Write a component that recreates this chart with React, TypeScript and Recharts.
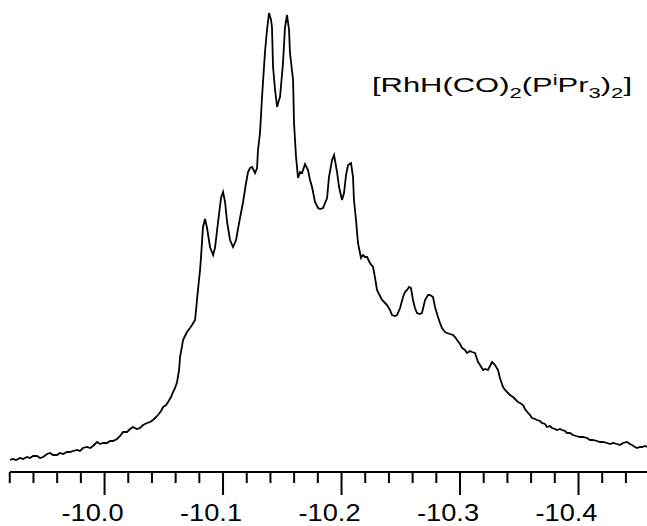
import { LineChart, Line, XAxis, YAxis } from "recharts";

// chemical shift (ppm)
const shift = [
  -9.9202, -9.9228, -9.9253, -9.9287, -9.9312, -9.9346, -9.9371, -9.9397, -9.943, -9.9456,
  -9.9481, -9.9515, -9.954, -9.9565, -9.9599, -9.9624, -9.965, -9.9683, -9.9709, -9.9734,
  -9.9768, -9.9793, -9.9818, -9.9852, -9.9878, -9.9903, -9.9937, -9.9962, -9.9987, -10.0021,
  -10.0046, -10.0072, -10.0105, -10.0131, -10.0156, -10.019, -10.0215, -10.024, -10.0274, -10.0299,
  -10.0325, -10.0359, -10.0384, -10.0409, -10.0435, -10.0451, -10.0477, -10.0494, -10.0519, -10.0536,
  -10.0561, -10.0578, -10.0595, -10.0612, -10.0629, -10.0637, -10.0654, -10.0662, -10.0679, -10.0696,
  -10.0721, -10.0738, -10.0764, -10.078, -10.0797, -10.0806, -10.0814, -10.0831, -10.0848, -10.0865,
  -10.089, -10.0916, -10.0932, -10.0958, -10.0983, -10.1, -10.1017, -10.1034, -10.1059, -10.1084,
  -10.111, -10.1135, -10.1169, -10.1194, -10.1211, -10.1228, -10.1245, -10.127, -10.1287, -10.1295,
  -10.1312, -10.1329, -10.1354, -10.1371, -10.1388, -10.1405, -10.1413, -10.1422, -10.1439, -10.1456,
  -10.1472, -10.1481, -10.1506, -10.1523, -10.154, -10.1557, -10.1565, -10.1591, -10.1599, -10.1616,
  -10.1633, -10.165, -10.1667, -10.1692, -10.1717, -10.1734, -10.1751, -10.1776, -10.1802, -10.1818,
  -10.1844, -10.1861, -10.1878, -10.1894, -10.192, -10.1937, -10.1962, -10.1979, -10.2004, -10.2021,
  -10.2038, -10.2055, -10.208, -10.2097, -10.2105, -10.2122, -10.2139, -10.2164, -10.2181, -10.2198,
  -10.2215, -10.224, -10.2266, -10.2283, -10.2299, -10.2325, -10.2342, -10.2367, -10.2384, -10.2409,
  -10.2426, -10.2451, -10.2468, -10.2494, -10.2519, -10.2536, -10.2553, -10.257, -10.2586, -10.2603,
  -10.262, -10.2637, -10.2662, -10.2679, -10.2705, -10.273, -10.2747, -10.2772, -10.2789, -10.2814,
  -10.2831, -10.2848, -10.2873, -10.289, -10.2916, -10.2941, -10.2958, -10.2975, -10.3, -10.3017,
  -10.3042, -10.3059, -10.3084, -10.3101, -10.3126, -10.3152, -10.3169, -10.3194, -10.3211, -10.3236,
  -10.3253, -10.327, -10.3287, -10.3295, -10.3321, -10.3337, -10.3363, -10.338, -10.3405, -10.3422,
  -10.3447, -10.3464, -10.3489, -10.3506, -10.3532, -10.3548, -10.3574, -10.3591, -10.3607, -10.3633,
  -10.365, -10.3675, -10.3692, -10.3717, -10.3734, -10.3759, -10.3776, -10.3802, -10.3818, -10.3844,
  -10.3861, -10.3886, -10.3903, -10.3928, -10.3953, -10.3979, -10.4013, -10.4038, -10.4072, -10.4097,
  -10.4122, -10.4156, -10.4181, -10.4207, -10.424, -10.4266, -10.4291, -10.4325, -10.435, -10.4375,
  -10.4409, -10.4434, -10.4451, -10.4477, -10.4494, -10.4519, -10.4536, -10.4561, -10.4578,
];

// signal intensity (arbitrary units)
const intensity = [
  12, 13, 12, 14, 13, 15, 14, 16, 16, 14,
  15, 18, 19, 17, 17, 19, 18, 20, 20, 21,
  22, 21, 24, 25, 24, 26, 30, 28, 29, 29,
  31, 31, 33, 36, 40, 40, 43, 45, 43, 44,
  47, 49, 50, 52, 55, 57, 61, 65, 67, 70,
  75, 80, 84, 90, 102, 115, 126, 132, 136, 140,
  144, 147, 152, 172, 192, 202, 215, 245, 253, 244,
  225, 217, 224, 250, 274, 280, 270, 250, 232, 225,
  232, 249, 270, 289, 300, 304, 305, 299, 304, 322,
  339, 375, 420, 442, 459, 452, 445, 405, 382, 365,
  372, 375, 409, 445, 457, 442, 419, 392, 349, 315,
  294, 300, 299, 308, 302, 292, 285, 270, 264, 263,
  264, 269, 274, 295, 312, 317, 300, 285, 272, 279,
  297, 307, 309, 295, 272, 252, 229, 214, 217, 215,
  215, 209, 205, 194, 182, 176, 172, 169, 167, 162,
  157, 156, 157, 164, 175, 180, 182, 185, 184, 172,
  164, 159, 158, 159, 172, 177, 177, 175, 165, 155,
  149, 144, 140, 139, 138, 137, 135, 132, 128, 124,
  122, 119, 121, 120, 119, 110, 107, 102, 103, 102,
  106, 110, 108, 107, 102, 94, 85, 82, 79, 77,
  75, 73, 70, 69, 67, 63, 59, 57, 54, 53,
  52, 51, 49, 48, 45, 46, 44, 43, 42, 43,
  42, 41, 39, 39, 37, 36, 35, 35, 34, 32,
  32, 31, 30, 30, 29, 28, 29, 28, 27, 29,
  30, 28, 27, 25, 24, 25, 25, 26, 25,
];

// axis ticks every 0.02 ppm, labelled every 0.1 ppm
const tickValues = [
  -9.92, -9.94, -9.96, -9.98, -10.0, -10.02, -10.04, -10.06, -10.08, -10.1,
  -10.12, -10.14, -10.16, -10.18, -10.2, -10.22, -10.24, -10.26, -10.28, -10.3,
  -10.32, -10.34, -10.36, -10.38, -10.4, -10.42, -10.44,
];
const tickLabels = ["-10.0", "-10.1", "-10.2", "-10.3", "-10.4"];

const data = shift.map((s, i) => ({ shift: s, intensity: intensity[i] }));

const ShiftTick = (props: any) => {
  const { x, y, payload } = props;
  const label = payload.value.toFixed(1);
  const major =
    Math.abs(payload.value * 10 - Math.round(payload.value * 10)) < 1e-6 &&
    tickLabels.includes(label);
  return (
    <g>
      <line x1={x} x2={x} y1={y} y2={y + (major ? 23 : 11)} stroke="#000" strokeWidth={2} />
      {major && (
        <text
          x={x - 12}
          y={y + 49}
          textAnchor="middle"
          fontSize={24}
          fontFamily="Liberation Sans, Arial, sans-serif"
          fill="#000"
          textLength={62}
          lengthAdjust="spacingAndGlyphs"
        >
          {label}
        </text>
      )}
    </g>
  );
};

export default function App() {
  return (
    <div style={{ position: "absolute", left: 0, top: 0, width: 647, height: 526, background: "#fff" }}>
      <LineChart
        width={647}
        height={526}
        data={data}
        margin={{ top: 0, right: 0, left: 10, bottom: 0 }}
      >
        <XAxis
          dataKey="shift"
          type="number"
          domain={[-10.4578, -9.9202]}
          reversed
          ticks={tickValues}
          interval={0}
          height={54}
          tickSize={0}
          tickMargin={0}
          tickLine={false}
          tick={<ShiftTick />}
          axisLine={{ stroke: "#000", strokeWidth: 2 }}
          allowDataOverflow
        />
        <YAxis hide domain={[0, 472]} type="number" />
        <Line
          type="linear"
          dataKey="intensity"
          stroke="#000"
          strokeWidth={1.8}
          dot={false}
          isAnimationActive={false}
        />
      </LineChart>
      <svg
        width={647}
        height={526}
        style={{ position: "absolute", left: 0, top: 0, pointerEvents: "none" }}
      >
        <text
          x={372}
          y={92}
          fontSize={21}
          fontFamily="Liberation Sans, Arial, sans-serif"
          fill="#000"
          textLength={260}
          lengthAdjust="spacingAndGlyphs"
        >
          <tspan>[RhH(CO)</tspan>
          <tspan fontSize={15} dy={6}>2</tspan>
          <tspan dy={-6}>(P</tspan>
          <tspan fontSize={15} dy={-7}>i</tspan>
          <tspan dy={7}>Pr</tspan>
          <tspan fontSize={15} dy={6}>3</tspan>
          <tspan dy={-6}>)</tspan>
          <tspan fontSize={15} dy={6}>2</tspan>
          <tspan dy={-6}>]</tspan>
        </text>
      </svg>
    </div>
  );
}
